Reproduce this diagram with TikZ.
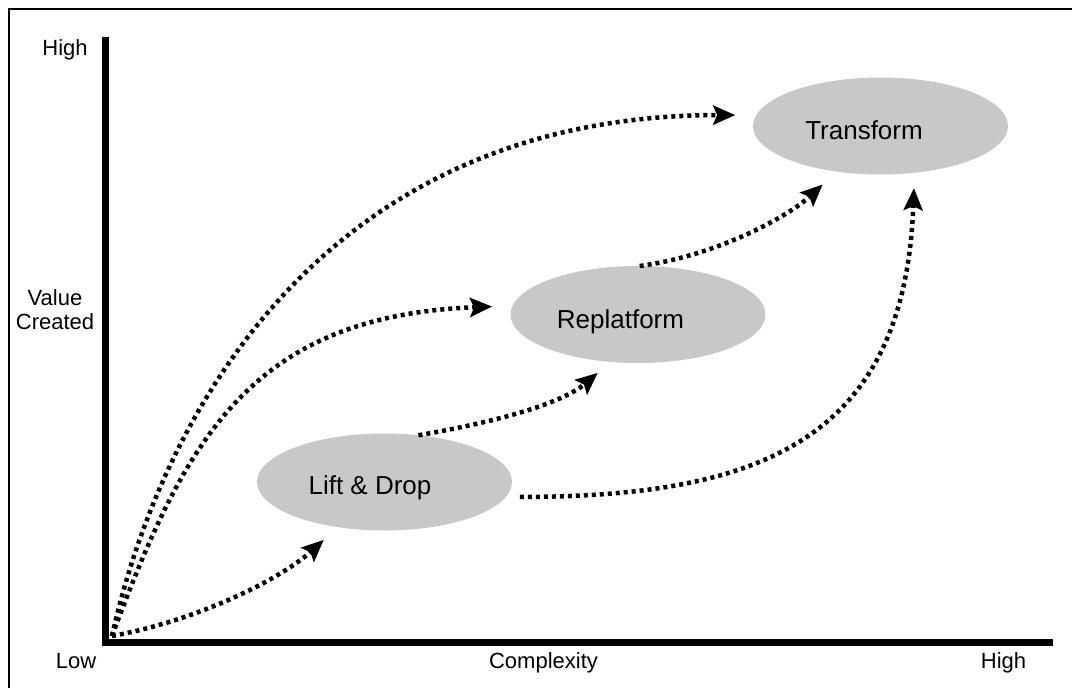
\documentclass[tikz,border=0pt]{standalone}
\usepackage{fontspec}
\setmainfont{Liberation Sans}
\usetikzlibrary{shapes.geometric,arrows.meta}
\definecolor{phasegray}{RGB}{200,200,200}
\begin{document}
\begin{tikzpicture}[x=1pt,y=-1pt,
  phase/.style={ellipse, fill=phasegray, draw=none, minimum width=255pt,
    minimum height=97pt, inner sep=0pt, outer sep=0pt},
  phasetext/.style={font=\fontsize{26}{30}\selectfont, anchor=base, inner sep=0pt},
  axislabel/.style={font=\fontsize{22}{24}\selectfont, inner sep=0pt, anchor=base},
  flow/.style={line width=4.5pt, dash pattern=on 4pt off 4pt, line cap=butt,
    -{Stealth[length=22pt,width=19pt,inset=4pt]}},
]
\useasboundingbox (0,0) rectangle (1072,688);
\fill[white] (0,0) rectangle (1072,688);

% outer frame (top and left edges)
\draw[line width=2.5pt] (9,688) -- (9,9) -- (1072,9);

% axes
\draw[line width=7pt] (105.5,37) -- (105.5,642.5) -- (1053,642.5);
\coordinate (o) at (112,636);

% axis labels
\node[axislabel] (yhigh) at (65,55) {High};
\node[axislabel, align=center] (ylab) at (55,329) {Value\\Created};
\node[axislabel] (ylow) at (76,668) {Low};
\node[axislabel] (xlab) at (543.5,668) {Complexity};
\node[axislabel] (xhigh) at (1003.5,668) {High};

% migration approaches
\node[phase, label={[phasetext, xshift=-16.5pt, yshift=-4pt]center:Transform}] (tf) at (880.5,126) {};
\node[phase, label={[phasetext, xshift=-17.5pt, yshift=-7.5pt]center:Replatform}] (rp) at (638,314.5) {};
\node[phase, label={[phasetext, xshift=-14.5pt, yshift=-6pt]center:Lift \& Drop}] (ld) at (384.5,482) {};

% paths from the origin
\draw[flow, shorten >=19pt] (o) .. controls (200,620) and (282,578) .. (ld.224);
\draw[flow, shorten >=20.5pt] (o) .. controls (185,440) and (250,316) .. (rp.176);
\draw[flow, shorten >=21pt] (o) .. controls (160,420) and (320,115) .. (tf.175);

% paths between approaches
\draw[flow, shorten >=17pt] (ld.54) .. controls (490,423) and (560,405) .. (rp.240);
\draw[flow, shorten >=19pt] (rp.88) .. controls (720,255) and (790,215) .. (tf.226);
\draw[flow, shorten <=14pt, shorten >=15.4pt] (ld.-7) .. controls (760,497) and (905,440) .. (tf.-54);
\end{tikzpicture}
\end{document}
